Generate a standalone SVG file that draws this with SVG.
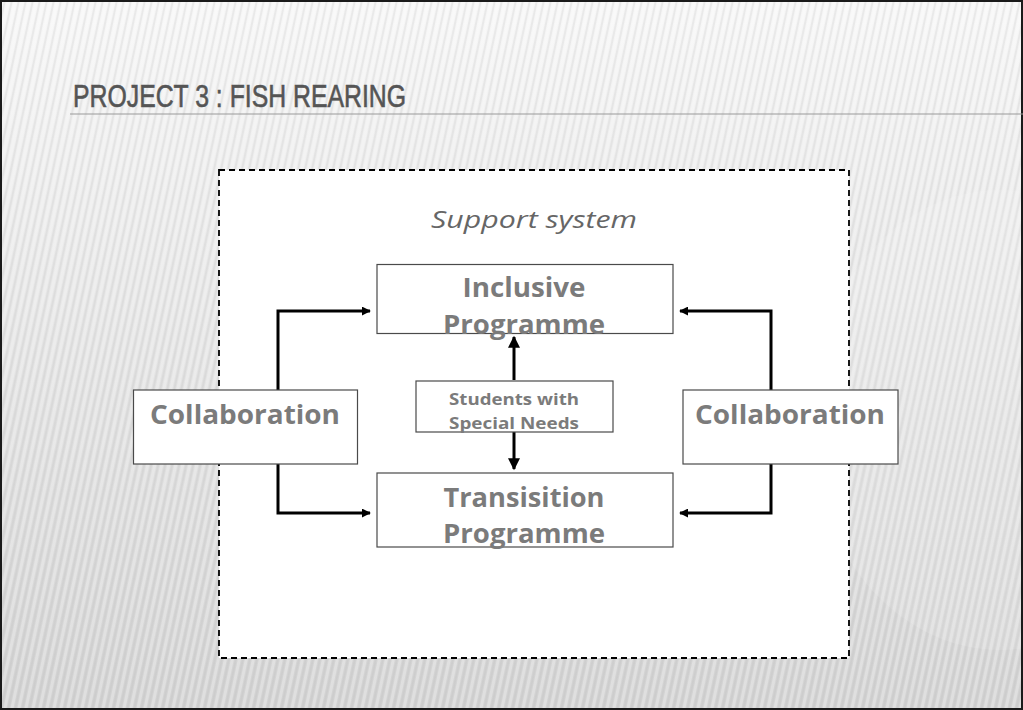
<svg xmlns="http://www.w3.org/2000/svg" width="1023" height="710" viewBox="0 0 1023 710">
  <defs>
    <linearGradient id="bg" x1="0" y1="0" x2="0" y2="1">
      <stop offset="0" stop-color="#f7f7f7"/>
      <stop offset="0.2" stop-color="#efefef"/>
      <stop offset="1" stop-color="#d2d2d2"/>
    </linearGradient>
    <pattern id="stripes" width="7" height="40" patternUnits="userSpaceOnUse" patternTransform="skewX(-12)">
      <rect x="0" y="0" width="3" height="40" fill="#ffffff" opacity="0.35"/>
      <rect x="4" y="0" width="2" height="40" fill="#b8b8b8" opacity="0.25"/>
    </pattern>
    <marker id="ah" viewBox="0 0 10 10" refX="9" refY="5" markerWidth="3" markerHeight="3" orient="auto" markerUnits="strokeWidth">
      <path d="M0,0 L10,5 L0,10 z" fill="#000"/>
    </marker>
    <marker id="ahBig" viewBox="0 0 10 10" refX="9" refY="5" markerWidth="4.3" markerHeight="4" orient="auto" markerUnits="strokeWidth">
      <path d="M0,0 L10,5 L0,10 z" fill="#000"/>
    </marker>
    <style>
      .box { fill: #ffffff; stroke: #4a4a4a; stroke-width: 1.2; }
      .lbl { font-family: "Open Sans", "DejaVu Sans", sans-serif; font-weight: bold; fill: #7b7b7b; text-anchor: middle; }
      .conn { fill: none; stroke: #000; stroke-width: 3; }
    </style>
  </defs>

  <!-- background -->
  <rect x="0" y="0" width="1023" height="710" fill="url(#bg)"/>
  <rect x="0" y="0" width="1023" height="710" fill="url(#stripes)" opacity="0.8"/>
  <ellipse cx="1000" cy="420" rx="190" ry="230" fill="#ffffff" opacity="0.12"/>
  <rect x="1" y="1" width="1021" height="708" fill="none" stroke="#1a1a1a" stroke-width="2"/>

  <!-- title -->
  <g id="title">
    <line x1="70" y1="114" x2="1023" y2="114" stroke="#9a9a9a" stroke-width="1.2"/>
    <text x="73" y="107" font-family="'Liberation Sans Narrow', 'Liberation Sans', Arial, sans-serif" font-size="31" fill="#555555" stroke="#555555" stroke-width="0.6" textLength="333" lengthAdjust="spacingAndGlyphs">PROJECT 3 : FISH REARING</text>
  </g>

  <!-- support system container -->
  <g id="support-system">
    <rect x="219" y="170" width="630" height="488" fill="#ffffff" stroke="#000" stroke-width="1.8" stroke-dasharray="6,4"/>
    <text x="534" y="228" font-family="'Open Sans', 'DejaVu Sans', sans-serif" font-style="italic" font-size="23" fill="#666666" text-anchor="middle" textLength="206" lengthAdjust="spacingAndGlyphs">Support system</text>
  </g>

  <!-- connectors -->
  <g id="connectors">
    <polyline class="conn" points="278,390 278,311 370,311" marker-end="url(#ah)"/>
    <polyline class="conn" points="278,464 278,513 370,513" marker-end="url(#ah)"/>
    <polyline class="conn" points="771,390 771,311 680,311" marker-end="url(#ah)"/>
    <polyline class="conn" points="771,464 771,513 680,513" marker-end="url(#ah)"/>
    <line class="conn" x1="514" y1="380" x2="514" y2="337" marker-end="url(#ahBig)"/>
    <line class="conn" x1="514" y1="432" x2="514" y2="469" marker-end="url(#ahBig)"/>
  </g>

  <!-- nodes -->
  <g id="inclusive-programme">
    <rect class="box" x="377" y="264.5" width="296" height="69"/>
    <text class="lbl" x="524" y="297" font-size="26" textLength="123" lengthAdjust="spacingAndGlyphs">Inclusive</text>
    <text class="lbl" x="524" y="334" font-size="26" textLength="162" lengthAdjust="spacingAndGlyphs">Programme</text>
  </g>

  <g id="students-special-needs">
    <rect class="box" x="416" y="381" width="197" height="51"/>
    <text class="lbl" x="514" y="405" font-size="16" textLength="130" lengthAdjust="spacingAndGlyphs">Students with</text>
    <text class="lbl" x="514" y="429" font-size="16" textLength="130" lengthAdjust="spacingAndGlyphs">Special Needs</text>
  </g>

  <g id="transition-programme">
    <rect class="box" x="377" y="473" width="296" height="74"/>
    <text class="lbl" x="524" y="507" font-size="26" textLength="161" lengthAdjust="spacingAndGlyphs">Transisition</text>
    <text class="lbl" x="524" y="543" font-size="26" textLength="162" lengthAdjust="spacingAndGlyphs">Programme</text>
  </g>

  <g id="collaboration-left">
    <rect class="box" x="133.5" y="390" width="224" height="74"/>
    <text class="lbl" x="245" y="424" font-size="27" textLength="190" lengthAdjust="spacingAndGlyphs">Collaboration</text>
  </g>

  <g id="collaboration-right">
    <rect class="box" x="683" y="390" width="215" height="74"/>
    <text class="lbl" x="790" y="424" font-size="27" textLength="190" lengthAdjust="spacingAndGlyphs">Collaboration</text>
  </g>
</svg>
